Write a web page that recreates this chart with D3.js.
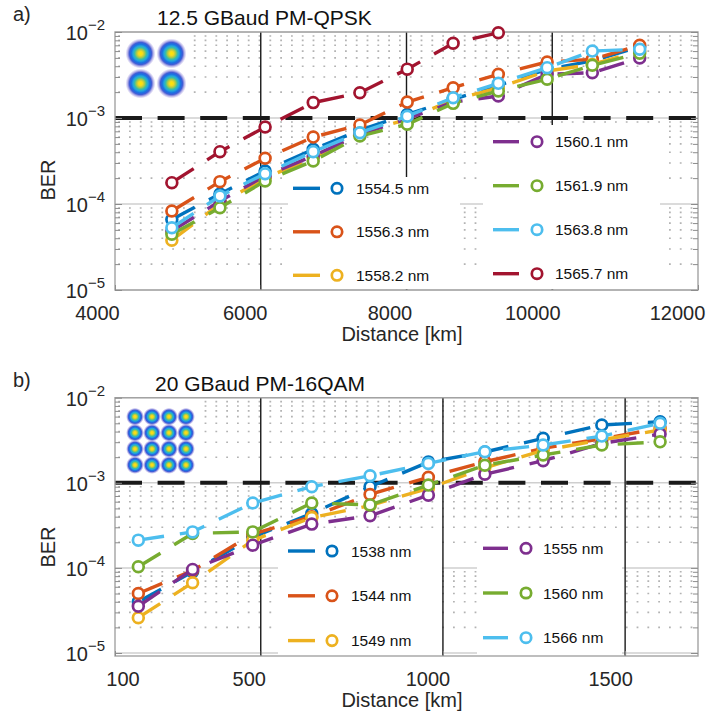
<!DOCTYPE html>
<html><head><meta charset="utf-8">
<script src="https://cdn.jsdelivr.net/npm/d3@7"></script>
<style>
body{margin:0;background:#fff}
svg{font-family:Arial,"Liberation Sans",Helvetica,sans-serif;display:block}
</style>
</head><body>
<svg id="c" width="709" height="717"></svg>
<script>
// ---------------- data ----------------
// Panel a) 12.5 GBaud PM-QPSK
const qpskDistances = [4780, 5440, 6060, 6720, 7360, 8010, 8640, 9260, 9930, 10550, 11200];
const qpskLabels = ["1554.5 nm", "1556.3 nm", "1558.2 nm", "1560.1 nm", "1561.9 nm", "1563.8 nm", "1565.7 nm"];
const qpsk1554_5 = [6.6e-5, 1.31e-4, 2.42e-4, 4.33e-4, 7.2e-4, 1.10e-3, 1.65e-3, 2.40e-3, 3.68e-3, 4.6e-3, 6.75e-3];
const qpsk1556_3 = [8.3e-5, 1.82e-4, 3.4e-4, 6.0e-4, 8.3e-4, 1.53e-3, 2.25e-3, 3.22e-3, 4.48e-3, 4.82e-3, 7.0e-3];
const qpsk1558_2 = [3.8e-5, 1.0e-4, 2.01e-4, 3.45e-4, 6.7e-4, 9.65e-4, 1.62e-3, 2.25e-3, 3.52e-3, 4.2e-3, 6.0e-3];
const qpsk1560_1 = [4.85e-5, 1.08e-4, 2.12e-4, 3.62e-4, 6.46e-4, 9.8e-4, 1.53e-3, 1.8e-3, 3.22e-3, 3.36e-3, 5.0e-3];
const qpsk1561_9 = [4.45e-5, 9.06e-5, 1.85e-4, 3.16e-4, 6.18e-4, 8.45e-4, 1.48e-3, 2.06e-3, 2.82e-3, 4.1e-3, 5.65e-3];
const qpsk1563_8 = [5.3e-5, 1.24e-4, 2.25e-4, 4.06e-4, 6.75e-4, 1.05e-3, 1.72e-3, 2.53e-3, 3.85e-3, 6.0e-3, 6.3e-3];
const qpsk1565_7 = [1.77e-4, 4.06e-4, 7.86e-4, 1.51e-3, 1.97e-3, 3.7e-3, 7.4e-3, 9.8e-3];
const qpskTicks = [4000, 6000, 8000, 10000, 12000];

// Panel b) 20 GBaud PM-16QAM
const qamDistances = [164, 313, 478, 640, 800, 960, 1115, 1275, 1436, 1596];
const qamLabels = ["1538 nm", "1544 nm", "1549 nm", "1555 nm", "1560 nm", "1566 nm"];
const qam1538 = [4.0e-5, 9.0e-5, 2.3e-4, 4.36e-4, 9.0e-4, 1.75e-3, 2.3e-3, 3.33e-3, 4.77e-3, 5.22e-3];
const qam1544 = [5.0e-5, 9.3e-5, 2.5e-4, 4.0e-4, 7.3e-4, 1.16e-3, 1.77e-3, 2.54e-3, 3.3e-3, 4.36e-3];
const qam1549 = [2.6e-5, 6.7e-5, 2.1e-4, 3.9e-4, 5.4e-4, 8.6e-4, 1.5e-3, 2.4e-3, 3.2e-3, 4.17e-3];
const qam1555 = [3.54e-5, 9.6e-5, 1.85e-4, 3.27e-4, 4.1e-4, 7.16e-4, 1.26e-3, 1.82e-3, 2.9e-3, 3.74e-3];
const qam1560 = [1.03e-4, 2.54e-4, 2.65e-4, 5.8e-4, 5.5e-4, 9.4e-4, 1.61e-3, 2.12e-3, 2.78e-3, 3.03e-3];
const qam1566 = [2.12e-4, 2.65e-4, 5.8e-4, 9.0e-4, 1.21e-3, 1.69e-3, 2.32e-3, 2.78e-3, 3.54e-3, 5.0e-3];
const qamTicks = [100, 500, 1000, 1500];

const yExponents = [-5, -4, -3, -2];
const berThreshold = 1e-3;
const qpskConstellation = [[-1, 1], [1, 1], [-1, -1], [1, -1]];
const qamLevels = [-3, -1, 1, 3];

// ---------------- style ----------------
const palette = ["#0072BD", "#D95319", "#EDB120", "#7E2F8E", "#77AC30", "#4DBEEE", "#A2142F"];
const textColor = "#262626";
const svg = d3.select("#c");

// radial gradient for constellation blobs
const defs = svg.append("defs");
const grad = defs.append("radialGradient").attr("id", "blob");
[[0, "#FFE800", 1], [0.14, "#F6D81F", 1], [0.27, "#A9C94A", 1], [0.39, "#3CBFA0", 1],
 [0.5, "#23A6DE", 1], [0.62, "#1A72E2", 1], [0.74, "#2A4BD2", 0.9], [0.86, "#4A42C6", 0.4], [1, "#6A5AD0", 0]]
  .forEach(s => grad.append("stop").attr("offset", s[0]).attr("stop-color", s[1]).attr("stop-opacity", s[2]));

function drawPanel(cfg) {
  const g = svg.append("g");
  const L = 115, R = 698;
  const x = d3.scaleLinear().domain(cfg.xDomain).range([L, R]);
  const y = d3.scaleLog().domain([1e-5, 1e-2]).range([cfg.y5, cfg.top]);
  const B = cfg.frameBottom;

  // minor dotted grid
  const minors = [];
  yExponents.slice(0, 3).forEach(e => { for (let m = 2; m <= 9; m++) minors.push(m * Math.pow(10, e)); });
  g.append("g").selectAll("line").data(minors).join("line")
    .attr("x1", L + 1).attr("x2", R - 1).attr("y1", d => y(d)).attr("y2", d => y(d))
    .attr("stroke", "#b3b3b3").attr("stroke-width", 1.6)
    .attr("stroke-dasharray", "1.8,9").attr("stroke-dashoffset", -13);

  // major horizontal grid
  g.append("g").selectAll("line").data(yExponents.map(e => Math.pow(10, e))).join("line")
    .attr("x1", L).attr("x2", R).attr("y1", d => y(d)).attr("y2", d => y(d))
    .attr("stroke", "#cfcfcf").attr("stroke-width", 1.5);

  // black vertical grid at inner major x ticks
  g.append("g").selectAll("line").data(cfg.xTicks.filter(t => t > cfg.xDomain[0] && t < cfg.xDomain[1])).join("line")
    .attr("x1", d => x(d)).attr("x2", d => x(d)).attr("y1", cfg.top).attr("y2", B)
    .attr("stroke", "#1a1a1a").attr("stroke-width", 1.4);

  // BER threshold
  g.append("line").attr("x1", L).attr("x2", R).attr("y1", y(berThreshold)).attr("y2", y(berThreshold))
    .attr("stroke", "#1a1a1a").attr("stroke-width", 4).attr("stroke-dasharray", "27,15.6");

  // frame
  g.append("rect").attr("x", L).attr("y", cfg.top).attr("width", R - L).attr("height", B - cfg.top)
    .attr("fill", "none").attr("stroke", "#a3a3a3").attr("stroke-width", 1.4);

  // y ticks (inside, left and right)
  const majors = yExponents.map(e => Math.pow(10, e));
  [[L, d3.axisLeft(y).tickValues(minors).tickSize(-5)],
   [L, d3.axisLeft(y).tickValues(majors).tickSize(-7)],
   [R, d3.axisRight(y).tickValues(minors).tickSize(-5)],
   [R, d3.axisRight(y).tickValues(majors).tickSize(-7)]].forEach(([tx, ax]) => {
    const a = g.append("g").attr("transform", `translate(${tx},0)`).call(ax.tickFormat(() => ""));
    a.select(".domain").remove();
    a.selectAll("line").attr("stroke", "#8c8c8c");
  });

  // y tick labels 10^e
  const yl = g.append("g").selectAll("text").data(yExponents).join("text")
    .attr("x", 105).attr("y", e => y(Math.pow(10, e)) + 8)
    .attr("text-anchor", "end").attr("fill", textColor).attr("font-size", 20);
  yl.append("tspan").text("10");
  yl.append("tspan").attr("font-size", 15).attr("dy", -10).text(e => "\u2212" + Math.abs(e));

  // x axis
  const xa = g.append("g").attr("transform", `translate(0,${B})`)
    .call(d3.axisBottom(x).tickValues(cfg.xTicks).tickSize(-5).tickFormat(d3.format("d")));
  xa.select(".domain").remove();
  xa.selectAll("line").attr("stroke", "#8c8c8c");
  xa.selectAll("text").attr("y", 30).attr("dy", 0).attr("dx", (d, i) => cfg.labelDx[i])
    .attr("font-size", 20).attr("fill", textColor).attr("font-family", null);

  // constellation inset
  g.append("rect").attr("x", cfg.inset.x0).attr("y", cfg.top + 1.5)
    .attr("width", cfg.inset.w).attr("height", cfg.inset.h).attr("fill", "#fff");
  const cx = d3.scaleLinear().domain(cfg.inset.dom).range(cfg.inset.xr);
  const cy = d3.scaleLinear().domain(cfg.inset.dom).range(cfg.inset.yr);
  g.append("g").selectAll("circle").data(cfg.inset.points).join("circle")
    .attr("cx", d => cx(d[0])).attr("cy", d => cy(d[1])).attr("r", cfg.inset.r)
    .attr("fill", "url(#blob)");

  // legend boxes (white)
  cfg.boxes.forEach(b => g.append("rect").attr("x", b.x0).attr("y", b.y0)
    .attr("width", b.x1 - b.x0).attr("height", B - 1 - b.y0).attr("fill", "#fff"));

  // series
  cfg.series.forEach((s, i) => {
    const pts = s.values.map((v, k) => [cfg.distances[k], v]);
    g.append("path").datum(pts)
      .attr("d", d3.line().x(d => x(d[0])).y(d => y(d[1])))
      .attr("fill", "none").attr("stroke", palette[i]).attr("stroke-width", 3.4)
      .attr("stroke-dasharray", "26,16");
    g.append("g").selectAll("circle").data(pts).join("circle")
      .attr("cx", d => x(d[0])).attr("cy", d => y(d[1])).attr("r", 5.4)
      .attr("fill", "#fff").attr("stroke", palette[i]).attr("stroke-width", 2.7);
  });

  // legend entries
  cfg.series.forEach((s, i) => {
    const col = cfg.legendCols[i < cfg.split ? 0 : 1];
    const k = i < cfg.split ? i : i - cfg.split;
    const ly = col.y + k * col.dy;
    g.append("line").attr("x1", col.l0).attr("x2", col.l1).attr("y1", ly).attr("y2", ly)
      .attr("stroke", palette[i]).attr("stroke-width", 3.4);
    g.append("circle").attr("cx", col.m).attr("cy", ly).attr("r", 5.2)
      .attr("fill", "#fff").attr("stroke", palette[i]).attr("stroke-width", 2.7);
    g.append("text").attr("x", col.t).attr("y", ly + 5.5).attr("font-size", 15.5)
      .attr("fill", "#111").text(s.label);
  });

  // texts
  g.append("text").attr("x", 13).attr("y", cfg.top - 11).attr("font-size", 20).attr("fill", textColor).text(cfg.tag);
  g.append("text").attr("x", cfg.titleX).attr("y", cfg.top - 7).attr("font-size", 21).attr("fill", "#111").text(cfg.title);
  g.append("text").attr("transform", `translate(55,${cfg.berY}) rotate(-90)`)
    .attr("text-anchor", "middle").attr("font-size", 20).attr("fill", textColor).text("BER");
  g.append("text").attr("x", 402).attr("y", B + 51).attr("text-anchor", "middle")
    .attr("font-size", 20).attr("fill", textColor).text("Distance [km]");
}

const qpskSeries = [qpsk1554_5, qpsk1556_3, qpsk1558_2, qpsk1560_1, qpsk1561_9, qpsk1563_8, qpsk1565_7]
  .map((v, i) => ({ values: v, label: qpskLabels[i] }));
const qamSeries = [qam1538, qam1544, qam1549, qam1555, qam1560, qam1566]
  .map((v, i) => ({ values: v, label: qamLabels[i] }));

const qamPoints = [];
qamLevels.forEach(a => qamLevels.forEach(b => qamPoints.push([a, b])));

drawPanel({
  tag: "a)", title: "12.5 GBaud PM-QPSK", titleX: 157,
  xDomain: [4000, 12000], xTicks: qpskTicks, labelDx: [-18, -16, -17, -20, -21],
  top: 32, y5: 290, frameBottom: 290, berY: 180,
  distances: qpskDistances, series: qpskSeries, split: 3,
  inset: { x0: 121, w: 68, h: 70, dom: [-1, 1], xr: [140.5, 171.5], yr: [83.5, 53.5], r: 15, points: qpskConstellation },
  boxes: [{ x0: 288, x1: 460, y0: 177 }, { x0: 483, x1: 660, y0: 125 }],
  legendCols: [{ y: 188.3, dy: 43.5, l0: 293, l1: 320, m: 337, t: 356 },
               { y: 141.7, dy: 44, l0: 493, l1: 519, m: 537, t: 555 }]
});

drawPanel({
  tag: "b)", title: "20 GBaud PM-16QAM", titleX: 155,
  xDomain: [100, 1700], xTicks: qamTicks, labelDx: [7.5, -12, -15.5, -15],
  top: 397.7, y5: 653, frameBottom: 656, berY: 547,
  distances: qamDistances, series: qamSeries, split: 3,
  inset: { x0: 121, w: 76, h: 80, dom: [-3, 3], xr: [135, 186], yr: [465, 416.7], r: 9, points: qamPoints },
  boxes: [{ x0: 278, x1: 442, y0: 535 }, { x0: 477, x1: 622, y0: 535 }],
  legendCols: [{ y: 551, dy: 44.8, l0: 288, l1: 315, m: 332, t: 351 },
               { y: 548.3, dy: 44.7, l0: 483, l1: 508, m: 526, t: 543 }]
});
</script>
</body></html>
